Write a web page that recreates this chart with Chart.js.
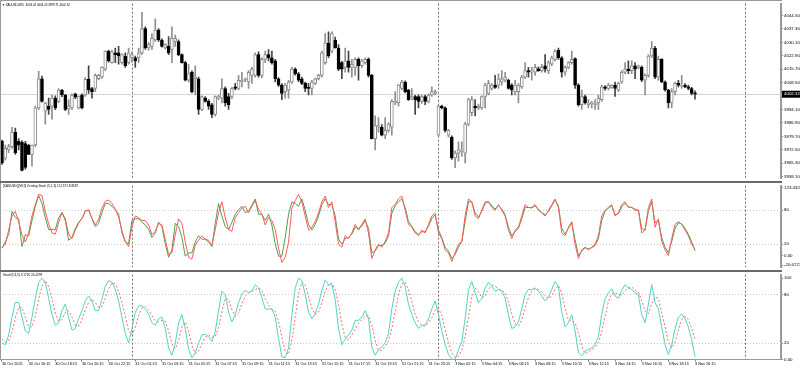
<!DOCTYPE html>
<html>
<head>
<meta charset="utf-8">
<script src="https://cdn.jsdelivr.net/npm/chart.js@4.4.1/dist/chart.umd.min.js"></script>
<style>
body{margin:0;background:#fff;width:800px;height:370px;overflow:hidden;position:relative;font-family:"Liberation Sans",sans-serif}
canvas{position:absolute;left:0}
.title{position:absolute;left:3px;font-size:3.1px;line-height:4px;color:#000;white-space:nowrap}
.line{position:absolute;background:#9a9a9a}
</style>
</head>
<body>
<canvas id="main" width="800" height="182" style="top:0"></canvas>
<canvas id="stoch1" width="800" height="89" style="top:182px"></canvas>
<canvas id="stoch2" width="800" height="99" style="top:271px"></canvas>
<div class="line" style="left:0;top:0;width:782px;height:1px"></div>
<div class="line" style="left:0;top:0;width:1px;height:360px"></div>
<div class="line" style="left:0;top:181px;width:782px;height:2px;background:#6a6a6a"></div>
<div class="line" style="left:0;top:270px;width:782px;height:2px;background:#6a6a6a"></div>
<div class="title" style="top:3px;left:2px;font-size:2.9px">&#9660; XAUUSD,M15&nbsp; 4003.02 4004.20 3999.71 4002.32</div>
<div class="title" style="top:184px">[XAUUSD] [M15] Zerolag Stoch (5,1,3) 11.1571 8.8587</div>
<div class="title" style="top:273px">Stoch(5,3,3) 3.1720 24.4299</div>
<script>
// XAUUSD M15, one entry per bar (30 Oct 14:15 ... 3 Nov 20:15)
var openPrice = [3977.2,3968.0,3972.5,3974.2,3982.0,3977.0,3976.5,3975.9,3975.1,3970.0,
3975.1,3995.0,4010.6,3993.3,3995.9,3995.9,4000.2,3998.5,4004.6,4001.9,
3994.5,3995.0,4002.5,3995.0,4001.9,4001.9,4010.3,4005.4,4005.4,4010.6,
4011.5,4015.8,4025.4,4019.3,4024.5,4024.5,4019.3,4022.8,4019.3,4021.9,
4021.9,4021.9,4024.5,4037.5,4027.1,4028.0,4031.4,4036.7,4031.4,4027.1,
4028.0,4026.3,4030.6,4030.6,4023.6,4019.3,4009.8,4014.1,4010.6,4010.6,
3994.2,4000.2,3998.5,3996.7,3991.5,4000.2,4000.2,4005.4,4001.1,4001.1,
4006.3,4005.4,4009.0,4009.8,4008.9,4012.4,4012.4,4023.6,4012.4,4021.0,
4023.6,4021.9,4020.2,4010.6,4007.2,4003.7,4004.6,4008.9,4015.8,4013.3,
4010.6,4008.1,4006.0,4005.4,4008.1,4010.6,4012.4,4019.3,4029.7,4025.4,
4031.4,4027.1,4019.3,4016.7,4020.2,4016.7,4016.7,4021.0,4017.6,4019.3,
4021.0,4012.4,3978.5,3984.6,3984.6,3980.3,3982.9,3984.6,3997.6,3997.6,
4005.4,4008.9,4004.6,4000.2,4001.1,4001.1,3998.5,4001.1,3998.5,4001.9,
4002.8,3980.3,3995.9,3995.0,3980.3,3979.4,3968.2,3970.7,3971.6,3970.7,
3986.3,3992.4,3995.9,3995.0,3995.0,4001.1,4002.8,4005.4,4007.2,4007.2,
4008.9,4009.8,4009.8,4007.2,4003.7,4003.7,4006.3,4011.5,4015.0,4014.1,
4014.1,4016.0,4015.0,4017.6,4015.0,4018.4,4021.0,4025.8,4021.9,4014.1,
4016.7,4019.3,4021.4,4007.2,3996.7,4001.1,3996.7,3997.3,3996.7,3997.6,
3999.4,4006.3,4005.4,4006.0,4007.2,4004.6,4008.9,4014.1,4015.8,4015.0,
4017.6,4016.7,4016.7,4009.8,4012.4,4022.8,4027.1,4011.5,4021.0,4008.9,
4004.6,3997.6,4003.7,4008.1,4006.7,4007.2,4006.3,4005.4,4003.02];
var highPrice = [3977.7,3975.1,3975.5,3984.6,3984.2,3978.5,3977.5,3977.0,3975.5,3975.1,
3995.9,4014.6,4012.0,3998.0,4000.2,4001.9,4001.5,4005.4,4005.0,4002.3,
3999.4,4002.5,4003.0,4001.5,4002.5,4011.2,4017.6,4006.0,4013.3,4013.0,
4017.0,4025.6,4026.0,4025.8,4027.1,4028.0,4024.0,4024.5,4027.1,4025.0,
4022.8,4027.1,4046.2,4038.4,4030.0,4034.9,4042.8,4037.5,4032.0,4029.5,
4033.2,4038.4,4034.1,4031.5,4024.0,4020.0,4018.4,4014.8,4017.6,4011.5,
4001.5,4001.0,3999.4,3997.5,4001.5,4001.9,4010.6,4006.3,4002.8,4006.0,
4008.1,4012.4,4014.1,4011.0,4015.0,4016.7,4024.5,4025.0,4022.0,4025.4,
4026.3,4025.4,4021.0,4011.2,4008.0,4008.1,4009.8,4016.7,4016.5,4014.0,
4011.5,4008.8,4008.1,4009.8,4011.0,4013.0,4025.4,4034.9,4035.8,4035.8,
4033.0,4028.9,4020.0,4027.1,4025.4,4021.0,4021.9,4021.9,4021.0,4021.9,
4021.9,4013.0,3990.7,3989.8,3986.0,3989.8,3987.0,3999.4,4003.7,4007.5,
4009.8,4009.5,4005.0,4005.4,4001.9,4002.0,4001.9,4001.9,4002.5,4006.3,
4004.6,3996.5,3996.5,3995.5,3983.5,3980.0,3972.0,3976.8,3976.8,3987.2,
4000.2,4001.1,3999.4,3997.0,4001.5,4008.1,4009.8,4008.0,4012.4,4013.3,
4015.0,4014.1,4010.5,4008.0,4009.8,4008.0,4012.4,4019.3,4016.7,4016.7,
4018.4,4017.0,4018.4,4023.6,4020.2,4022.8,4026.3,4027.1,4022.5,4017.6,
4019.8,4025.4,4021.9,4008.0,4004.6,4001.9,3999.4,3998.5,3999.4,4001.9,
4007.2,4007.0,4008.1,4007.5,4008.9,4008.9,4015.0,4019.3,4020.2,4020.2,
4019.3,4018.0,4017.5,4013.3,4023.6,4030.6,4028.0,4022.8,4021.5,4009.5,
4005.0,4005.4,4008.9,4009.8,4012.4,4008.0,4007.2,4006.0,4004.20];
var lowPrice = [3964.7,3967.0,3971.0,3973.3,3970.0,3972.5,3961.2,3962.1,3969.9,3963.8,
3974.2,3994.0,3998.0,3986.3,3991.5,3989.0,3994.0,3997.6,4001.0,3993.5,
3991.5,3994.0,4000.0,3994.5,3994.5,4001.1,4002.8,4000.2,4003.7,4010.0,
4010.8,4015.0,4019.5,4019.0,4019.3,4018.4,4018.5,4016.7,4018.4,4019.5,
4016.7,4019.3,4023.6,4026.3,4026.0,4026.3,4030.6,4030.6,4027.5,4026.5,
4023.6,4019.3,4028.0,4023.0,4019.0,4009.5,4008.9,4003.0,4001.9,3991.5,
3993.5,3998.0,3994.2,3989.8,3990.5,3999.4,3997.6,3995.9,3994.2,4000.0,
4004.6,4004.6,4006.3,4009.0,4005.4,4008.1,4011.5,4011.5,4011.0,4019.3,
4020.2,4018.4,4008.9,4006.5,3999.4,4000.2,4000.2,4008.1,4012.5,4009.0,
4007.5,4003.7,4001.9,4001.9,4007.5,4010.0,4011.5,4018.4,4021.9,4024.5,
4027.0,4015.0,4010.6,4014.1,4014.1,4011.5,4012.4,4009.8,4016.5,4018.4,
4011.5,3978.3,3972.5,3982.0,3980.0,3978.5,3982.0,3980.3,3996.7,3995.9,
4004.6,4003.0,3999.0,3999.4,3991.5,3995.0,3997.5,3996.7,3997.6,4001.1,
4001.9,3980.0,3994.5,3982.0,3979.4,3967.3,3962.9,3966.4,3969.0,3965.5,
3985.5,3990.7,3990.7,3994.0,3994.2,3995.0,4002.0,4004.5,4005.4,4005.4,
4007.2,4008.9,4005.0,4001.9,4001.9,3997.6,4005.4,4010.6,4011.5,4009.8,
4012.4,4014.5,4014.1,4014.1,4013.3,4017.6,4020.2,4021.0,4011.5,4012.4,
4016.0,4018.4,4005.4,3995.9,3994.2,3997.0,3995.0,3995.0,3994.2,3994.2,
3998.5,4004.5,4004.6,4005.5,4001.1,4003.7,4008.1,4013.3,4013.3,4013.3,
4010.6,4016.0,4009.0,4001.9,4011.5,4021.9,4010.6,4009.8,4008.5,4004.0,
3995.0,3995.0,4001.9,4006.3,4005.4,4005.8,4004.6,4002.0,3999.71];
var closePrice = [3965.5,3973.3,3974.2,3982.0,3971.0,3975.0,3961.5,3963.0,3970.0,3975.1,
3995.0,4010.6,3998.5,3997.6,3994.2,4000.2,3995.0,4004.6,4001.9,3994.2,
3995.9,4001.9,4000.8,4001.1,3995.0,4010.3,4004.6,4003.7,4012.4,4012.4,
4016.7,4025.4,4020.2,4025.0,4023.6,4022.8,4023.6,4017.6,4024.5,4023.6,
4020.2,4024.5,4037.5,4027.1,4028.9,4032.3,4036.7,4031.4,4028.0,4028.9,
4024.5,4032.3,4032.3,4023.6,4019.3,4009.8,4013.3,4003.7,4011.5,3994.2,
4001.1,3998.5,3995.9,3991.5,4001.1,4001.1,4005.4,3997.6,3996.7,4005.4,
4005.4,4009.8,4009.8,4010.6,4014.1,4015.8,4023.6,4012.4,4021.0,4023.6,
4021.9,4019.3,4010.6,4007.2,4002.8,4007.2,4008.9,4015.8,4013.3,4009.8,
4008.1,4005.4,4005.4,4008.9,4010.6,4012.4,4024.5,4029.7,4022.8,4034.9,
4027.1,4015.8,4015.8,4020.2,4016.7,4018.4,4021.0,4017.6,4020.2,4021.0,
4012.4,3978.5,3985.5,3985.5,3980.3,3982.9,3986.3,3998.5,3998.5,4007.2,
4008.9,4003.7,3999.4,4001.1,3999.4,3998.5,4001.1,3998.5,4001.9,4003.7,
4003.7,3995.9,3995.0,3982.9,3982.9,3968.2,3970.7,3972.5,3972.5,3986.3,
3999.4,3999.4,3995.0,3995.9,4001.1,4007.2,4008.1,4007.2,4006.0,4010.6,
4010.6,4011.5,4005.4,4004.6,4007.2,4007.2,4011.5,4015.0,4014.1,4015.0,
4016.7,4015.0,4016.7,4015.8,4019.3,4021.9,4025.4,4021.9,4014.1,4016.7,
4019.3,4021.0,4007.2,3996.7,4001.1,3997.6,3997.6,3997.6,3997.6,4000.2,
4006.3,4005.4,4007.2,4007.2,4005.4,4008.1,4014.1,4015.8,4015.0,4017.6,
4015.8,4017.6,4009.8,4012.4,4022.8,4027.1,4011.5,4021.0,4008.9,4004.6,
3997.6,4003.7,4008.1,4007.2,4007.2,4006.3,4005.4,4002.8,4002.32];

// Zerolag Stoch (5,1,3): green and red lines
var zlGreen = [13,25,37,78,67,65,16,37,35,62,87,106,92,67,46,46,46,67,76,62,
27,32,48,59,65,78,81,65,51,57,76,92,92,87,81,73,40,24,21,62,
65,65,59,54,46,32,40,59,51,21,-3,10,57,51,32,-1,5,5,24,35,
29,29,24,16,57,92,70,51,46,59,73,81,87,76,78,89,100,73,73,62,
73,54,21,-1,-1,32,73,95,92,87,
100,80,55,45,55,70,90,100,90,90,70,30,20,30,32,38,50,48,52,62,
48,5,8,18,18,22,35,75,88,95,100,85,60,52,42,38,42,42,52,65,
72,45,32,15,8,-5,2,15,25,60,95,95,75,68,78,92,95,88,82,88,
82,72,50,35,42,48,65,85,85,84,88,82,76,72,78,88,98,88,48,38,
48,58,28,0,8,14,12,14,18,30,62,78,84,88,72,74,86,92,86,85,
82,80,48,45,78,95,58,62,32,15,5,25,48,58,56,48,38,24,8.86];
var zlRed = [14,20,45,70,78,60,37,24,40,70,90,108,106,78,56,40,38,58,76,65,
38,30,45,57,66,79,80,66,54,64,84,96,98,92,82,68,44,25,16,51,
70,67,62,62,54,37,43,57,54,29,2,5,37,65,57,24,-3,-6,18,27,
35,29,27,18,46,76,95,67,46,43,67,76,84,87,76,87,97,81,73,54,
67,62,46,13,-12,-3,24,84,97,108,
95,70,45,50,60,75,95,105,85,95,60,20,15,35,30,40,55,45,55,65,
40,-5,10,20,15,25,40,85,90,100,105,80,55,50,40,35,45,40,55,70,
75,40,30,10,5,-10,5,20,25,70,100,95,70,65,80,95,95,85,80,90,
80,70,45,30,45,50,70,90,85,85,90,80,75,70,80,90,100,85,40,35,
50,60,20,-5,10,15,10,15,20,35,70,80,85,90,70,75,90,95,85,85,
80,80,40,45,85,100,50,65,25,10,0,30,55,60,55,45,35,20,11.16];

// Stoch (5,3,3): main and signal
var stochMain = [20,18,30,52,70,70,52,35,32,52,75,95,100,95,75,55,42,45,60,68,
52,36,38,50,60,72,78,72,60,60,74,90,97,95,86,72,52,32,20,38,
58,66,66,62,56,45,42,50,52,38,14,5,20,45,55,38,12,2,8,20,
30,31,28,22,34,60,84,80,58,46,55,70,80,85,82,84,92,88,76,62,
62,62,52,26,3,2,14,55,88,100,97,80,58,50,56,68,85,98,92,92,
74,38,18,25,30,36,48,48,52,60,50,15,5,12,15,20,32,62,84,95,
100,90,68,55,45,38,42,42,50,62,72,55,35,18,6,0,0,12,22,50,
85,96,82,70,75,88,95,90,84,86,84,75,55,38,40,46,62,80,86,86,
88,84,78,72,76,86,96,90,58,40,45,55,35,8,4,10,12,14,18,28,
55,75,82,87,78,75,85,92,88,86,82,80,55,45,68,92,70,62,40,18,
6,18,38,52,56,50,40,24,3.17];
var stochSignal = [25,21,23,33,51,64,64,52,40,40,53,74,90,97,90,75,57,47,49,58,
60,52,42,41,49,61,70,74,70,64,65,75,87,94,93,84,70,53,35,30,
39,54,63,65,61,54,48,46,48,47,35,19,13,23,40,46,35,17,7,10,
19,27,30,27,28,39,59,75,74,61,53,57,68,78,82,84,86,88,85,75,
67,62,59,47,27,10,6,24,52,81,95,92,78,63,55,58,70,84,92,94,
86,68,43,27,24,30,38,44,49,53,54,42,23,11,11,16,22,38,59,80,
93,95,86,71,56,46,42,41,45,51,61,63,54,36,20,8,2,4,11,28,
52,77,88,83,76,78,86,91,90,87,85,82,71,56,44,41,49,63,76,84,
87,86,83,78,75,78,86,91,81,63,48,47,45,33,16,7,9,12,15,20,
34,53,71,81,82,80,79,84,88,89,85,83,72,60,56,68,77,75,57,40,
21,14,21,36,49,53,49,38,24.43];

var priceTicks = [4044.50,4037.30,4030.10,4022.90,4015.70,4008.50,4001.30,3994.10,3986.90,3979.70,3972.50,3965.30,3958.10];
var zlTicks = [123.4323,80,20,0,-20.6723];
var zlTickText = ['123.4323','80','20','0.00','-20.6723'];
var stochTicks = [100,80,20,0];
var stochTickText = ['100','80','20','0.00'];
var timeLabels = ['30 Oct 2025','30 Oct 16:15','30 Oct 18:15','30 Oct 20:15','30 Oct 22:15',
'31 Oct 01:15','31 Oct 03:15','31 Oct 05:15','31 Oct 07:15','31 Oct 09:15','31 Oct 11:15',
'31 Oct 13:15','31 Oct 15:15','31 Oct 17:15','31 Oct 19:15','31 Oct 21:15','31 Oct 23:15',
'3 Nov 02:15','3 Nov 04:15','3 Nov 06:15','3 Nov 08:15','3 Nov 10:15','3 Nov 12:15',
'3 Nov 14:15','3 Nov 16:15','3 Nov 18:15','3 Nov 20:15'];
var daySeparators = [39,131,223];  // 01:00 bar of each day
var lastPrice = 4002.32;

Chart.defaults.font.family = 'Liberation Sans';
Chart.defaults.color = '#000';

var overlay = {
  id: 'overlay',
  beforeDatasetsDraw: function(chart, args, opts) {
    var ctx = chart.ctx, a = chart.chartArea, x = chart.scales.x, y = chart.scales.y;
    ctx.save();
    ctx.lineWidth = 1;
    if (opts.levels) {
      ctx.strokeStyle = '#c8c8c8';
      ctx.setLineDash([1, 2]);
      opts.levels.forEach(function(v) {
        var py = Math.round(y.getPixelForValue(v)) + 0.5;
        ctx.beginPath(); ctx.moveTo(a.left, py); ctx.lineTo(a.right, py); ctx.stroke();
      });
    }
    if (opts.price) {
      ctx.setLineDash([]);
      ctx.strokeStyle = '#d4d4d4';
      var pp = Math.round(y.getPixelForValue(opts.price)) + 0.5;
      ctx.beginPath(); ctx.moveTo(a.left, pp); ctx.lineTo(a.right, pp); ctx.stroke();
    }
    ctx.strokeStyle = '#707070';
    ctx.setLineDash([2, 2]);
    daySeparators.forEach(function(i) {
      var px = Math.round(x.getPixelForValue(i)) + 0.5;
      ctx.beginPath(); ctx.moveTo(px, a.top); ctx.lineTo(px, a.bottom); ctx.stroke();
    });
    ctx.restore();
  },
  afterDraw: function(chart, args, opts) {
    if (!opts.price) return;
    var ctx = chart.ctx, a = chart.chartArea, y = chart.scales.y;
    var py = y.getPixelForValue(opts.price);
    ctx.save();
    ctx.fillStyle = '#000';
    ctx.fillRect(a.right + 1, py - 3.5, 800 - a.right - 1, 7);
    ctx.fillStyle = '#fff';
    ctx.font = '4.4px "Liberation Sans"';
    ctx.textBaseline = 'middle';
    ctx.fillText(opts.price.toFixed(2), a.right + 3, py);
    ctx.restore();
  }
};

function xAxis(show) {
  var axis = {
    type: 'linear', min: -0.6, max: 233.8, offset: false, display: show,
    grid: {drawOnChartArea: false, drawTicks: true, tickLength: 2, color: '#808080'},
    border: {display: true, color: '#9a9a9a'},
    afterBuildTicks: function(s) { s.ticks = timeLabels.map(function(t, k) { return {value: k * 8}; }); },
    ticks: {
      autoSkip: false, maxRotation: 0, align: 'start', padding: 0.5,
      font: {size: 3.8},
      callback: function(v) { return timeLabels[v / 8]; }
    }
  };
  if (show) axis.afterFit = function(s) { s.height = 10.5; };
  return axis;
}

function yAxis(min, max, vals, texts, inset) {
  return {
    position: 'right', min: min, max: max,
    grid: {drawOnChartArea: false, tickLength: 2, color: '#808080'},
    border: {display: true, color: '#9a9a9a', width: 2},
    afterBuildTicks: function(s) {
      s.ticks = vals.map(function(v) {
        var p = v;
        if (inset && v >= max) p = v - inset;
        if (inset && v <= min) p = v + inset;
        return {value: p};
      });
    },
    afterFit: function(s) { s.width = 19; },
    ticks: {
      padding: 1, font: {size: 4.4},
      callback: function(v, i) { return texts ? texts[i] : Number(v).toFixed(2); }
    }
  };
}

var bull = closePrice.map(function(c, i) { return c >= openPrice[i]; });

new Chart(document.getElementById('main'), {
  type: 'bar',
  data: {
    datasets: [{
      label: 'body', order: 0, grouped: false, barThickness: 3, minBarLength: 1,
      borderSkipped: false, borderWidth: 1,
      data: openPrice.map(function(o, i) { return {x: i, y: [o, closePrice[i]]}; }),
      backgroundColor: bull.map(function(b) { return b ? '#ffffff' : '#000000'; }),
      borderColor: bull.map(function(b) { return b ? '#8a8a8a' : '#000000'; })
    }, {
      label: 'wick', order: 1, grouped: false, barThickness: 1, borderWidth: 0,
      data: lowPrice.map(function(l, i) { return {x: i, y: [l, highPrice[i]]}; }),
      backgroundColor: bull.map(function(b) { return b ? '#8f8f8f' : '#444444'; })
    }]
  },
  options: {
    responsive: false, animation: false, devicePixelRatio: 1,
    layout: {padding: {top: 1, bottom: 1, left: 0, right: 0}},
    plugins: {legend: {display: false}, tooltip: {enabled: false}, overlay: {price: lastPrice}},
    scales: {x: xAxis(false), y: yAxis(3957.2, 4050.9, priceTicks, null, 0)}
  },
  plugins: [overlay]
});

function lineSet(values, color, dash) {
  return {
    data: values.map(function(v, i) { return {x: i, y: v}; }),
    borderColor: color, borderWidth: 1, borderDash: dash || [], pointRadius: 0, tension: 0
  };
}

new Chart(document.getElementById('stoch1'), {
  type: 'line',
  data: {datasets: [lineSet(zlRed, '#ff5a5a'), lineSet(zlGreen, '#4f9f4f')]},
  options: {
    responsive: false, animation: false, devicePixelRatio: 1,
    layout: {padding: {top: 0.4, bottom: 0.4, left: 0, right: 0}},
    plugins: {legend: {display: false}, tooltip: {enabled: false}, overlay: {levels: [80, 20]}},
    scales: {x: xAxis(false), y: yAxis(-20.6723, 123.4323, zlTicks, zlTickText, 4)}
  },
  plugins: [overlay]
});

new Chart(document.getElementById('stoch2'), {
  type: 'line',
  data: {datasets: [lineSet(stochMain, '#4fd3c6'), lineSet(stochSignal, '#ff6a6a', [2, 2])]},
  options: {
    responsive: false, animation: false, devicePixelRatio: 1,
    layout: {padding: {top: 0, bottom: 0, left: 0, right: 0}},
    plugins: {legend: {display: false}, tooltip: {enabled: false}, overlay: {levels: [80, 20]}},
    scales: {x: xAxis(true), y: yAxis(-0.24, 104.35, stochTicks, stochTickText, 0)}
  },
  plugins: [overlay]
});
</script>
</body>
</html>
